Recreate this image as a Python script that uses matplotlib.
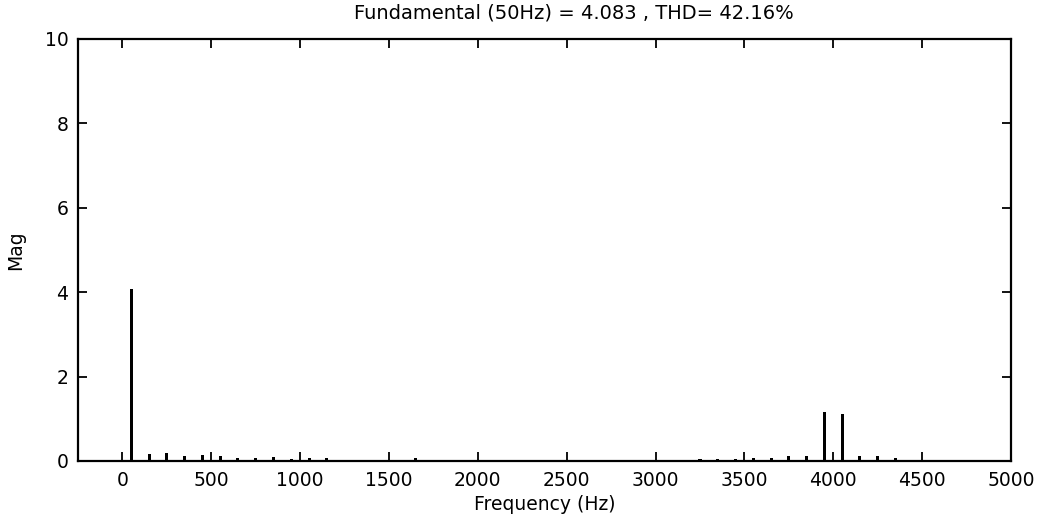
import matplotlib
matplotlib.use("Agg")
import matplotlib.pyplot as plt

# Harmonic spectrum data (Hz, magnitude)
freqs = [50, 150, 250, 350, 450, 550, 650, 750, 850, 950,
         1050, 1150, 1250, 1350, 1450, 1550, 1650, 1750, 1850, 1950,
         2050, 2150, 2250, 2350, 2450, 2550, 2650, 2750, 2850, 2950,
         3050, 3150, 3250, 3350, 3450, 3550, 3650, 3750, 3850, 3950,
         4050, 4150, 4250, 4350, 4450, 4550, 4650, 4750, 4850, 4950]
mags = [4.083, 0.16, 0.19, 0.11, 0.15, 0.12, 0.06, 0.07, 0.10, 0.04,
        0.07, 0.06, 0.01, 0.01, 0.01, 0.02, 0.06, 0.03, 0.01, 0.01,
        0.01, 0.02, 0.01, 0.01, 0.01, 0.03, 0.03, 0.03, 0.01, 0.01,
        0.03, 0.03, 0.04, 0.05, 0.05, 0.06, 0.06, 0.11, 0.12, 1.17,
        1.12, 0.12, 0.12, 0.07, 0.01, 0.01, 0.03, 0.03, 0.03, 0.02]
xticks = [0, 500, 1000, 1500, 2000, 2500, 3000, 3500, 4000, 4500, 5000]
yticks = [0, 2, 4, 6, 8, 10]
title = "Fundamental (50Hz) = 4.083 , THD= 42.16%"

plt.rcParams['font.family'] = ['DejaVu Sans']
fs = 13.5

fig = plt.figure(figsize=(10.38, 5.25), dpi=100)
ax = fig.add_axes([78/1038, 1 - 461/525, (1011 - 78)/1038, (461 - 39)/525])

ax.bar(freqs, mags, width=17, color='black', linewidth=0)
ax.axhline(0, color='black', linewidth=1.8)

ax.set_xlim(-250, 5000)
ax.set_ylim(0, 10)
ax.set_xticks(xticks)
ax.set_yticks(yticks)
ax.tick_params(direction='in', length=6.5, width=1.3, top=True, right=True,
               labelsize=fs, pad=7, colors='black')
for s in ax.spines.values():
    s.set_linewidth(1.6)
    s.set_color('black')

ax.set_title(title, fontsize=14, pad=15, x=0.532)
ax.set_xlabel("Frequency (Hz)", fontsize=fs, labelpad=4)
ax.set_ylabel("Mag", fontsize=fs, labelpad=14)

fig.savefig("out.png", dpi=100)
